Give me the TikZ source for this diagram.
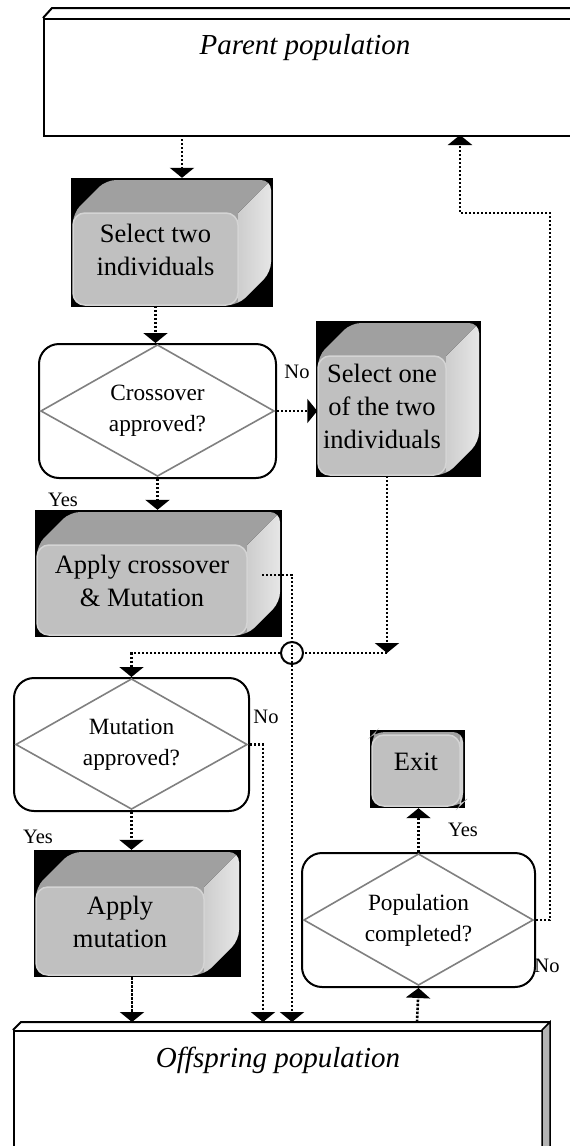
\documentclass[tikz,border=0pt]{standalone}
\usepackage{fontspec}
\setmainfont{Liberation Serif}
\usetikzlibrary{arrows.meta,fit}
\definecolor{topface}{HTML}{A0A0A0}
\definecolor{frontface}{HTML}{C0C0C0}
\definecolor{sideL}{HTML}{CDCDCD}
\definecolor{sideR}{HTML}{EAEAEA}
\definecolor{rimc}{HTML}{D4D4D4}
\definecolor{diamc}{HTML}{808080}
\definecolor{offside}{HTML}{B4B4B4}
\tikzset{
  flow/.style={line width=2.6pt, dash pattern=on 2.4pt off 1.6pt, -{Triangle[width=24pt,length=10pt]}},
  flowline/.style={line width=2.6pt, dash pattern=on 2.4pt off 1.6pt},
  procfont/.style={font=\fontsize{26.5}{33}\selectfont, align=center},
  decfont/.style={font=\fontsize{23.3}{31}\selectfont, align=center},
  lbl/.style={font=\fontsize{20.5}{24}\selectfont, inner sep=0pt},
  popfont/.style={font=\fontsize{29}{34}\selectfont\itshape},
  decbox/.style={draw, line width=2pt, rounded corners=20pt, inner sep=0pt, anchor=north west},
  diam/.style={draw=diamc, line width=1.6pt, line join=miter},
}
\newcommand\bevelbox[7]{%
  \node[fill=black, inner sep=0pt, fit={({#2-2},{#3-#6-2}) ({#4+#6+2},{#5+2})}] (#1) {};
  \begin{scope}
    \fill[topface, rounded corners=10pt] (#2,#5) -- (#2,#3) -- ({#2+#6},{#3-#6}) -- ({#4+#6},{#3-#6}) -- ({#4+#6},{#5-#6}) -- (#4,#5) -- cycle;
    \clip[rounded corners=10pt] (#2,#5) -- (#2,#3) -- ({#2+#6},{#3-#6}) -- ({#4+#6},{#3-#6}) -- ({#4+#6},{#5-#6}) -- (#4,#5) -- cycle;
    \fill[left color=sideL, right color=sideR] (#4,#3) -- ({#4+#6},{#3-#6}) -- ({#4+#6+5},{#3-#6}) -- ({#4+#6+5},{#5}) -- (#4,#5) -- cycle;
  \end{scope}
  \node[fill=frontface, draw=rimc, line width=1.5pt, rounded corners=12pt, inner sep=0pt, procfont, fit={(#2,#3) (#4,#5)}] (#1f) {#7};
}
\begin{document}
\begin{tikzpicture}[x=1pt,y=-1pt]
\useasboundingbox (0,0) rectangle (570,1146);
\clip (0,0) rectangle (570,1146);
\fill[white] (0,0) rectangle (570,1146);

% Parent population
\node[draw, line width=2pt, minimum width=540pt, minimum height=117pt, anchor=north west, inner sep=0pt] (parent) at (43,18) {};
\draw[line width=2pt, line join=round] (parent.north west) -- (52,8) -- (590,8);
\node[popfont] (parentT) at (305,48) {Parent population};

% process boxes
\bevelbox{selA}{73}{213}{238}{305}{33}{Select two\\individuals}
\bevelbox{selB}{318}{356}{446}{475}{33}{Select one\\of the two\\individuals}
\bevelbox{acB}{37}{545}{247}{635}{33}{Apply crossover\\\& Mutation}
\bevelbox{amB}{36}{887}{204}{975}{35}{Apply\\mutation}
\bevelbox{exitB}{372}{735}{460}{806}{3}{Exit}

% decision boxes
\node[decbox, minimum width=237pt, minimum height=134pt] (crossBox) at (38,343) {};
\draw[diam] ([xshift=3pt]crossBox.west) -- ([yshift=-2pt]crossBox.north) -- ([xshift=-3pt]crossBox.east) -- ([yshift=3pt]crossBox.south) -- cycle;
\node[decfont] (crossT) at (crossBox.center) {Crossover\\approved?};

\node[decbox, minimum width=235pt, minimum height=133pt] (mutBox) at (13,677) {};
\draw[diam] ([xshift=3pt]mutBox.west) -- ([yshift=-2pt]mutBox.north) -- ([xshift=-3pt]mutBox.east) -- ([yshift=3pt]mutBox.south) -- cycle;
\node[decfont] (mutT) at (mutBox.center) {Mutation\\approved?};

\node[decbox, minimum width=233pt, minimum height=134pt] (popBox) at (301,852) {};
\draw[diam] ([xshift=3pt]popBox.west) -- ([yshift=-2pt]popBox.north) -- ([xshift=-3pt]popBox.east) -- ([yshift=3pt]popBox.south) -- cycle;
\node[decfont] (popT) at (popBox.center) {Population\\completed?};

% Offspring population
\node[draw, line width=2pt, minimum width=529pt, minimum height=140pt, anchor=north west, inner sep=0pt] (offs) at (13,1030) {};
\draw[line width=2pt, line join=round] (offs.north west) -- (21,1022) -- (550,1022) -- (offs.north east);
\filldraw[fill=offside, line width=1.5pt] (542,1030) -- (550,1022) -- (550,1170) -- (542,1170) -- cycle;
\node[popfont] (offsT) at (278,1060) {Offspring population};

% junction
\node[circle, draw, line width=2pt, minimum size=22pt, inner sep=0pt] (junc) at (292,653) {};

% named connector ends
\coordinate (p1) at (182,135);
\coordinate (p2) at (460,135);
\coordinate (r1) at (550,213);
\coordinate (acOut) at (262,575);
\coordinate (o1) at (132,1022);
\coordinate (o2) at (263,1022);
\coordinate (o3) at (292,1022);
\coordinate (o4) at (417,1022);
\coordinate (sbOut) at ([xshift=5pt]selBf.south);
\coordinate (jR) at (sbOut |- junc.center);

% connectors
\draw[flow] (p1) -- (p1 |- selA.north);
\draw[flow] (selAf.south) -- (selAf.south |- crossBox.north);
\draw[flow] (crossBox.east) -- (crossBox.east -| selBf.west);
\draw[flow] (crossBox.south) -- (crossBox.south |- acB.north);
\draw[flow] (sbOut) -- (jR);
\draw[flowline] (jR) -- (junc.east);
\draw[flow] (junc.west) -| (mutBox.north);
\draw[flow] (acOut) -| (o3);
\draw[flow] (mutBox.east) -| (o2);
\draw[flow] (mutBox.south) -- (mutBox.south |- amB.north);
\draw[flow] (o1 |- amB.south) -- (o1);
\draw[flow] (o4) -- (popBox.south);
\draw[flow] (popBox.north) -- (popBox.north |- exitB.south);
\draw[flow] (popBox.east) -| (r1) -| (p2);

% labels
\node[lbl] (noA) at (297,372) {No};
\node[lbl] (yesA) at (63,500) {Yes};
\node[lbl] (noB) at (266,717) {No};
\node[lbl] (yesB) at (38,837) {Yes};
\node[lbl] (yesC) at (463,830) {Yes};
\node[lbl] (noC) at (547,966) {No};
\end{tikzpicture}
\end{document}
